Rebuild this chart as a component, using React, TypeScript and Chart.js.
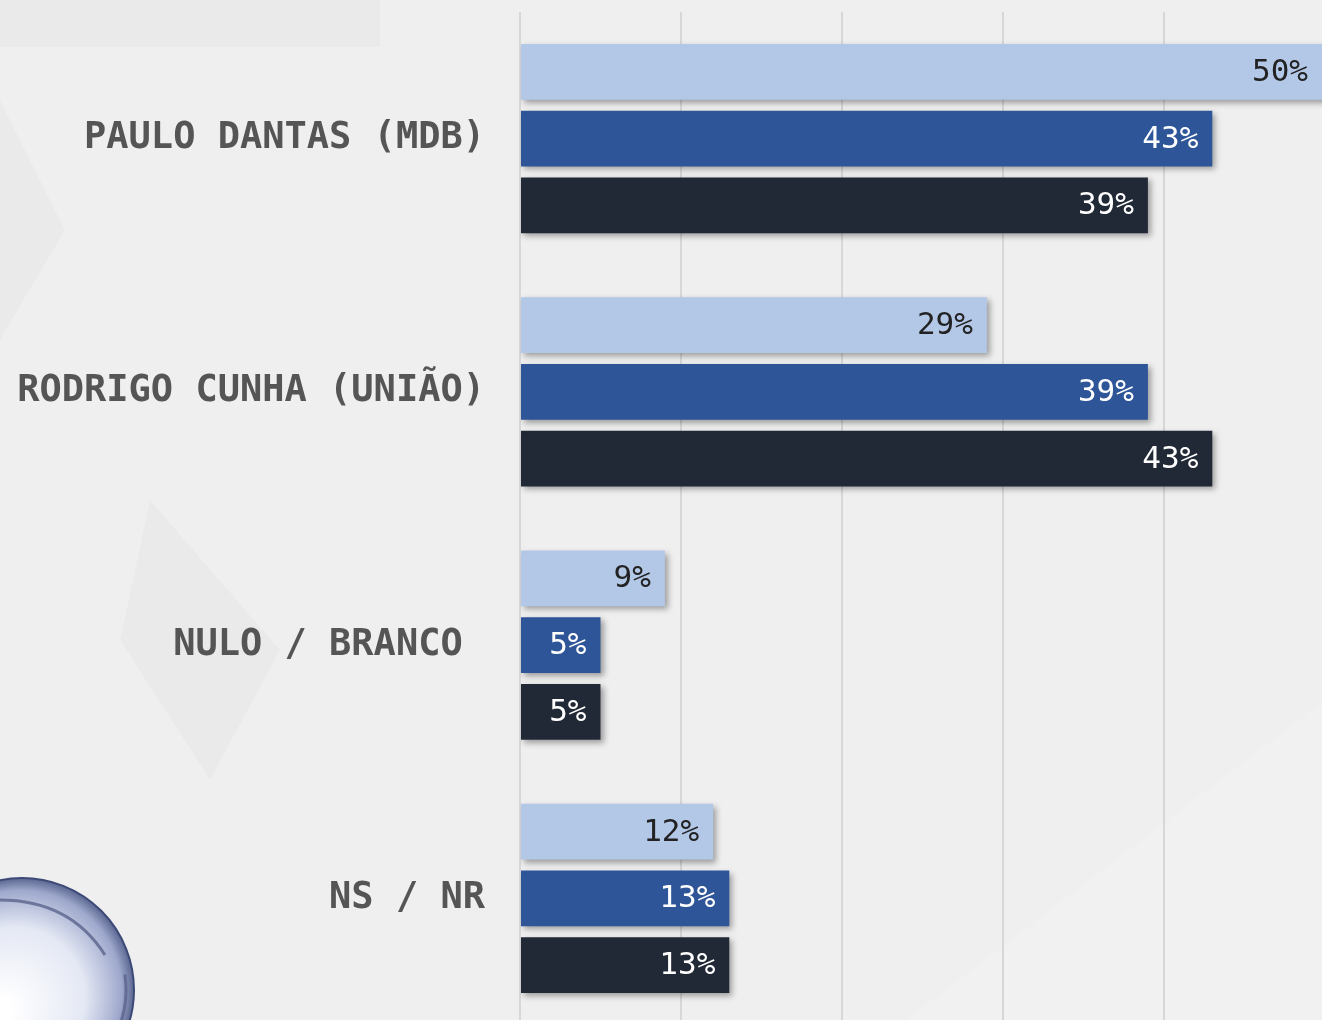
import React, { useEffect, useRef } from "react";
import { Chart, registerables } from "chart.js";

Chart.register(...registerables);

const categories = ["PAULO DANTAS (MDB)", "RODRIGO CUNHA (UNIÃO)", "NULO / BRANCO ", "NS / NR"];
const seriesA = [50, 29, 9, 12];
const seriesB = [43, 39, 5, 13];
const seriesC = [39, 43, 5, 13];
const xTicks = [0, 10, 20, 30, 40, 50];

const colors = ["#b3c7e7", "#2d5597", "#222936"];
const labelColors = ["#222222", "#ffffff", "#ffffff"];

const bgPlugin = {
  id: "bg",
  beforeDraw(chart: any) {
    const { ctx, width, height } = chart;
    ctx.save();
    ctx.fillStyle = "#efefef";
    ctx.fillRect(0, 0, width, height);
    ctx.fillStyle = "rgba(0,0,0,0.02)";
    ctx.fillRect(0, 0, 380, 47);
    ctx.beginPath();
    ctx.moveTo(0, 100);
    ctx.lineTo(65, 230);
    ctx.lineTo(0, 340);
    ctx.closePath();
    ctx.fill();
    ctx.beginPath();
    ctx.moveTo(150, 500);
    ctx.lineTo(280, 650);
    ctx.lineTo(210, 780);
    ctx.lineTo(120, 640);
    ctx.closePath();
    ctx.fill();
    ctx.fillStyle = "rgba(255,255,255,0.15)";
    ctx.beginPath();
    ctx.moveTo(1325, 700);
    ctx.lineTo(1325, 1025);
    ctx.lineTo(900, 1025);
    ctx.closePath();
    ctx.fill();
    // logo sphere
    const cx = 22, cy = 990, r = 112;
    const g = ctx.createRadialGradient(cx - 20, cy + 20, 10, cx, cy, r);
    g.addColorStop(0, "#ffffff");
    g.addColorStop(0.6, "#e4e8f4");
    g.addColorStop(0.9, "#9ea8cc");
    g.addColorStop(1, "#5a6690");
    ctx.fillStyle = g;
    ctx.beginPath();
    ctx.arc(cx, cy, r, 0, Math.PI * 2);
    ctx.fill();
    ctx.strokeStyle = "#3d4a78";
    ctx.lineWidth = 2;
    ctx.stroke();
    ctx.strokeStyle = "rgba(90,100,140,0.8)";
    ctx.lineWidth = 3;
    ctx.beginPath();
    ctx.moveTo(0, 900);
    ctx.quadraticCurveTo(70, 900, 105, 955);
    ctx.stroke();
    ctx.beginPath();
    ctx.arc(cx, cy, r - 8, -0.15, 0.9);
    ctx.stroke();
    ctx.restore();
  },
};

const shadowPlugin = {
  id: "shadow",
  beforeDatasetDraw(chart: any) {
    const ctx = chart.ctx;
    ctx.save();
    ctx.shadowColor = "rgba(0,0,0,0.35)";
    ctx.shadowBlur = 6;
    ctx.shadowOffsetX = 3;
    ctx.shadowOffsetY = 3;
  },
  afterDatasetDraw(chart: any) {
    chart.ctx.restore();
  },
};

const valueLabelPlugin = {
  id: "valueLabels",
  afterDatasetsDraw(chart: any) {
    const ctx = chart.ctx;
    ctx.save();
    ctx.font = "31px 'DejaVu Sans Mono'";
    ctx.textAlign = "right";
    ctx.textBaseline = "middle";
    chart.data.datasets.forEach((ds: any, di: number) => {
      const meta = chart.getDatasetMeta(di);
      meta.data.forEach((bar: any, i: number) => {
        ctx.fillStyle = labelColors[di];
        const x = Math.min(bar.x, 1322) - 14;
        ctx.fillText(ds.data[i] + "%", x, bar.y + 1);
      });
    });
    ctx.restore();
  },
};

export default function App() {
  const ref = useRef<HTMLCanvasElement>(null);
  useEffect(() => {
    const chart = new Chart(ref.current!, {
      type: "bar",
      data: {
        labels: categories,
        datasets: [seriesA, seriesB, seriesC].map((d, i) => ({
          data: d,
          backgroundColor: colors[i],
          borderWidth: 0,
          categoryPercentage: 0.79,
          barPercentage: 0.835,
        })),
      },
      options: {
        indexAxis: "y",
        animation: false,
        responsive: false,
        events: [],
        layout: { padding: { top: 12, bottom: 0, left: 0, right: 0 } },
        plugins: { legend: { display: false }, tooltip: { enabled: false } },
        scales: {
          x: {
            min: xTicks[0],
            max: xTicks[xTicks.length - 1],
            afterBuildTicks: (s: any) => {
              s.ticks = xTicks.map((v) => ({ value: v }));
            },
            afterFit: (s: any) => {
              s.height = 0;
              s.paddingLeft = 0;
              s.paddingRight = 0;
            },
            ticks: { display: false },
            grid: { color: "#d7d7d7", lineWidth: 2, drawTicks: false },
            border: { display: false },
          },
          y: {
            afterFit: (s: any) => {
              s.width = 520;
              s.paddingTop = 0;
              s.paddingBottom = 0;
            },
            grid: { display: false, drawTicks: false },
            border: { display: false },
            ticks: {
              padding: 35,
              color: "#555555",
              font: { family: "'DejaVu Sans Mono'", size: 37, weight: "bold" },
            },
          },
        },
      },
      plugins: [bgPlugin, shadowPlugin, valueLabelPlugin],
    } as any);
    return () => chart.destroy();
  }, []);
  return (
    <div style={{ position: "fixed", left: 0, top: 0, width: 1322, height: 1020, overflow: "hidden" }}>
      <canvas ref={ref} width={1325} height={1025} />
    </div>
  );
}
